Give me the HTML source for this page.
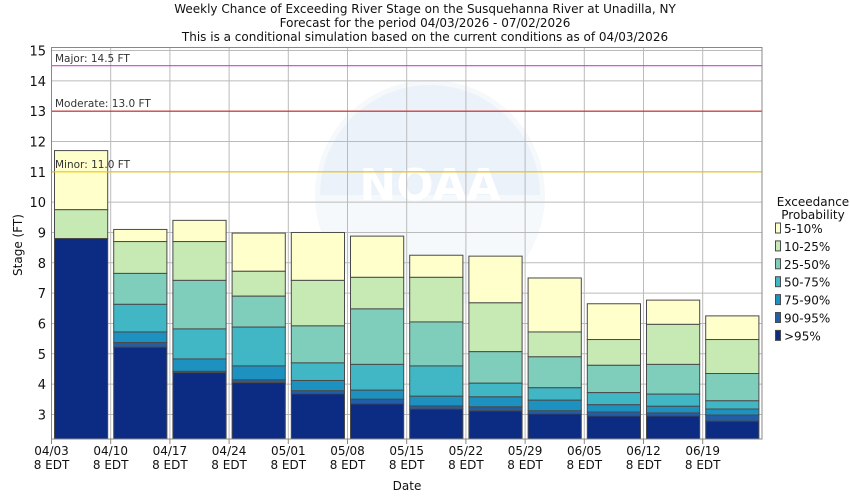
<!DOCTYPE html>
<html><head><meta charset="utf-8"><style>
body{margin:0;background:#fff}
svg{display:block;font-family:"DejaVu Sans","Liberation Sans",sans-serif}
</style></head><body>
<svg id="s" width="850" height="500" xmlns="http://www.w3.org/2000/svg">
<rect width="850" height="500" fill="#fff"/>
<g font-size="12" fill="#111" text-anchor="middle">
<text x="425" y="13">Weekly Chance of Exceeding River Stage on the Susquehanna River at Unadilla, NY</text>
<text x="425" y="27">Forecast for the period 04/03/2026 - 07/02/2026</text>
<text x="425" y="41">This is a conditional simulation based on the current conditions as of 04/03/2026</text>
</g>
<!-- watermark -->
<circle cx="430" cy="195" r="115" fill="#f6f9fc"/>
<path d="M320 195 A110 110 0 0 1 540 195 Z" fill="#ebf2f9"/>
<text x="430" y="200" font-size="44" font-weight="bold" fill="#fff" text-anchor="middle">NOAA</text>
<g id="grid" stroke="#bbb" stroke-width="1"></g>
<g id="bars"></g>
<line x1="51.5" y1="65.7" x2="762" y2="65.7" stroke="#cc44cc" stroke-width="1.2"/>
<line x1="51.5" y1="111.2" x2="762" y2="111.2" stroke="#d52020" stroke-width="1.2"/>
<line x1="51.5" y1="171.8" x2="762" y2="171.8" stroke="#f2c500" stroke-width="1.2"/>
<g font-size="10.5" fill="#333">
<text x="55" y="62">Major: 14.5 FT</text>
<text x="55" y="107">Moderate: 13.0 FT</text>
<text x="55" y="168">Minor: 11.0 FT</text>
</g>
<rect x="51.5" y="47.5" width="710.5" height="391.5" fill="none" stroke="#888" stroke-width="1"/>
<g id="yt" font-size="13" fill="#111" text-anchor="end"></g>
<g id="xt" font-size="12" fill="#111" text-anchor="middle"></g>
<text x="22" y="245" font-size="12" fill="#111" text-anchor="middle" transform="rotate(-90 22 245)">Stage (FT)</text>
<text x="407" y="490" font-size="12" fill="#111" text-anchor="middle">Date</text>
<g font-size="12" fill="#111">
<text x="813" y="206" text-anchor="middle">Exceedance</text>
<text x="813" y="219" text-anchor="middle">Probability</text>
</g>
<g id="leg" font-size="12" fill="#111"></g>
</svg>
<script>
var NS="http://www.w3.org/2000/svg";
function el(p,t,a,txt){var e=document.createElementNS(NS,t);for(var k in a)e.setAttribute(k,a[k]);if(txt!==undefined)e.textContent=txt;document.getElementById(p).appendChild(e);return e;}
function Y(f){return 50.5+(15-f)*30.33;}
var cols=["#ffffcc","#c7e9b4","#7fcdbb","#41b6c4","#1d91c0","#225ea8","#0c2c84"];
var d=[[11.7,9.75,8.8,8.8,8.8,8.8,8.8],[9.1,8.7,7.65,6.63,5.72,5.37,5.22],[9.4,8.7,7.42,5.82,4.83,4.42,4.38],[8.98,7.72,6.9,5.88,4.6,4.14,4.05],[9.0,7.42,5.92,4.7,4.12,3.78,3.68],[8.88,7.52,6.48,4.65,3.8,3.5,3.35],[8.25,7.52,6.05,4.6,3.6,3.28,3.18],[8.22,6.68,5.07,4.03,3.58,3.25,3.12],[7.5,5.72,4.9,3.88,3.47,3.12,3.02],[6.65,5.47,4.62,3.72,3.32,3.08,2.95],[6.77,5.97,4.65,3.67,3.27,3.05,2.95],[6.25,5.47,4.35,3.45,3.18,2.98,2.78]];
var bot=439,W=59.2,x0=51.5;
for(var f=3;f<=15;f++)el("grid","line",{x1:x0,x2:762,y1:Y(f),y2:Y(f)});
for(var i=1;i<=11;i++)el("grid","line",{x1:x0+i*W,x2:x0+i*W,y1:47.5,y2:439});
for(var i=0;i<12;i++){var bx=x0+i*W+3,bw=W-6;
 for(var j=0;j<7;j++){var t=d[i][j],b=j<6?d[i][j+1]:null;var yt=Y(t),yb=b===null?bot:Y(b);
  el("bars","rect",{x:bx,y:yt,width:bw,height:Math.max(0,yb-yt),fill:cols[j],stroke:"#4a4a4a","stroke-width":1});}}
for(var f=3;f<=15;f++)el("yt","text",{x:46,y:Y(f)+5},String(f));
var dates=["04/03","04/10","04/17","04/24","05/01","05/08","05/15","05/22","05/29","06/05","06/12","06/19"];
for(var i=0;i<12;i++){var x=x0+i*W;el("xt","line",{x1:x,x2:x,y1:439,y2:444,stroke:"#888"});el("xt","text",{x:x,y:455},dates[i]);el("xt","text",{x:x,y:469},"8 EDT");}
var labs=["5-10%","10-25%","25-50%","50-75%","75-90%","90-95%",">95%"];
for(var j=0;j<7;j++){var y=232+j*17.9;el("leg","rect",{x:775.5,y:y-9,width:5,height:10,fill:cols[j],stroke:"#4a4a4a","stroke-width":1});el("leg","text",{x:784,y:y+1},labs[j]);}
</script>
</body></html>
